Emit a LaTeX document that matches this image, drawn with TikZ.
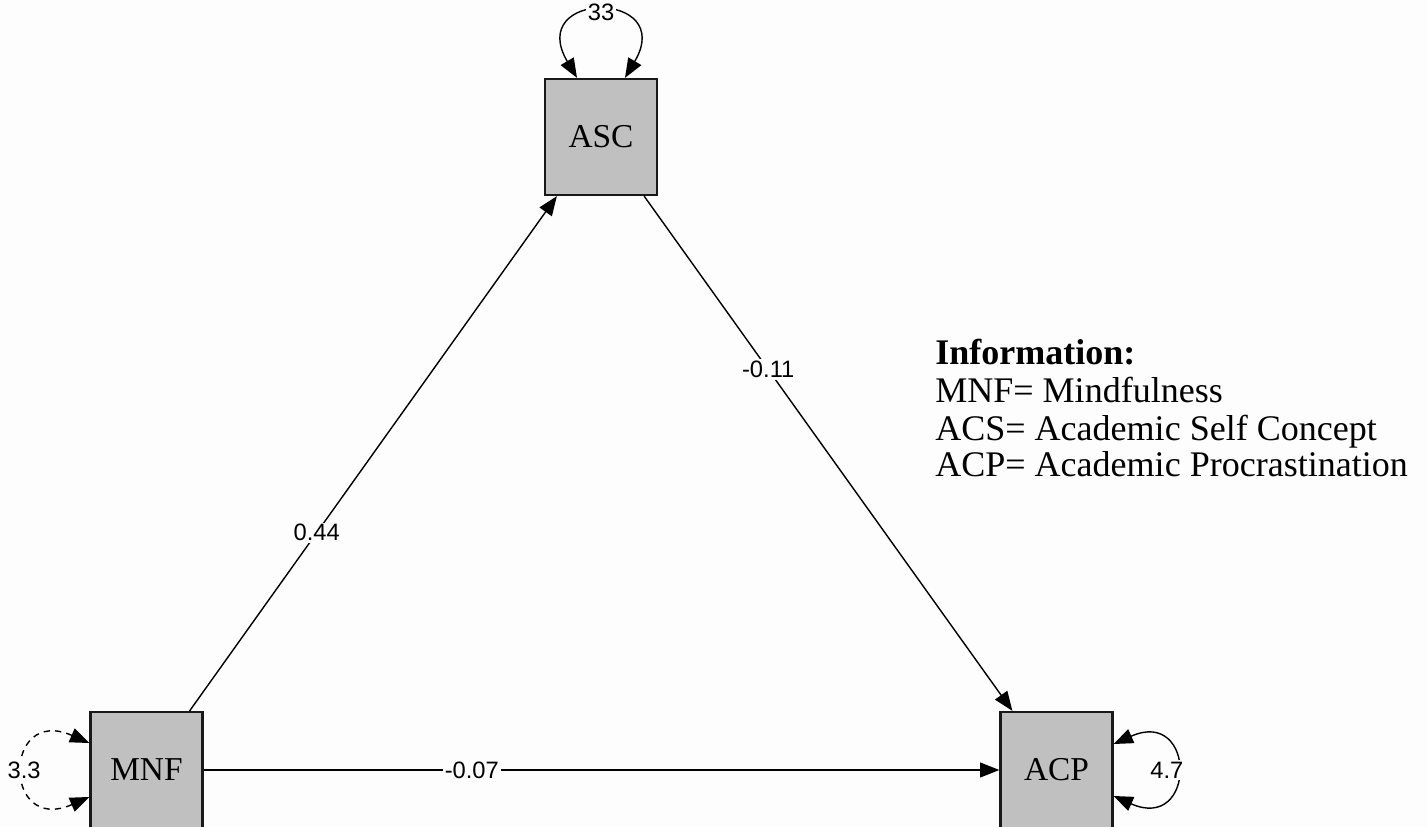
\documentclass[tikz,border=0pt]{standalone}
\usepackage{fontspec}
\setmainfont{Liberation Serif}
\newfontfamily\coeffont{Liberation Sans}
\usetikzlibrary{arrows.meta}
\definecolor{boxgray}{RGB}{192,192,192}
\definecolor{paper}{RGB}{253,253,253}
\tikzset{var/.style={draw=black!90, line width=1.3pt, fill=boxgray, minimum width=2.24cm, minimum height=2.32cm, inner sep=0pt, font=\fontsize{19}{20}\selectfont},
  regpath/.style={-{Triangle[length=11pt,width=8.5pt]}, line width=0.8pt},
  varloop/.style={{Triangle[length=11pt,width=8.5pt]}-{Triangle[length=11pt,width=8.5pt]}, line width=0.8pt},
  coef/.style={fill=paper, inner sep=1pt, font=\coeffont\fontsize{13.5}{14}\selectfont},
  legend/.style={anchor=base west, inner sep=0pt, font=\fontsize{20.5}{22}\selectfont}}

\begin{document}
\begin{tikzpicture}[x=0.02cm, y=-0.02cm]
\fill[paper] (0,0) rectangle (1427,827);
\useasboundingbox (0,0) rectangle (1427,827);
% observed variables
\node[var] (asc) at (601,137) {ASC};
\node[var] (mnf) at (146.5,770) {MNF};
\node[var] (acp) at (1056.5,770) {ACP};
% paths
\draw[regpath] ([xshift=-0.28cm]mnf.north east) -- node[coef, pos=0.346]{0.44} ([xshift=0.26cm]asc.south west);
\draw[regpath] ([xshift=-0.28cm]asc.south east) -- node[coef, pos=0.337]{-0.11} ([xshift=0.26cm]acp.north west);
\draw[regpath] (mnf.east) -- node[coef, pos=0.337]{-0.07} (acp.west);
% variances
\draw[varloop] ([xshift=-0.48cm]asc.north) .. controls +(-52,-88) and +(52,-88) .. node[coef, pos=0.5]{33} ([xshift=0.48cm]asc.north);
\draw[varloop, dash pattern=on 3.5pt off 3pt] ([yshift=0.54cm]mnf.west) .. controls +(-87,-38) and +(-87,38) .. node[coef, pos=0.5]{3.3} ([yshift=-0.54cm]mnf.west);
\draw[varloop] ([yshift=0.52cm]acp.east) .. controls +(83,-37) and +(83,37) .. node[coef, pos=0.5, xshift=-0.18cm]{4.7} ([yshift=-0.52cm]acp.east);
% information
\node[legend] (info) at (935,365) {\textbf{Information:}};
\node[legend] (mnfdef) at (935,403) {MNF= Mindfulness};
\node[legend] (acsdef) at (935,440) {ACS= Academic Self Concept};
\node[legend] (acpdef) at (935,477) {ACP= Academic Procrastination};
\end{tikzpicture}
\end{document}
